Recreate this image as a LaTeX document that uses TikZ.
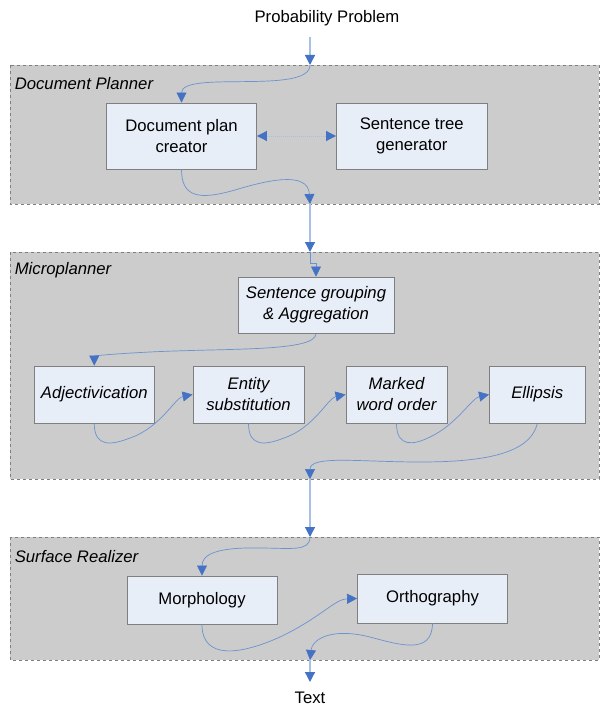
\documentclass[tikz,border=0pt]{standalone}
\usepackage{fontspec}
\setmainfont{Liberation Sans}
\usetikzlibrary{arrows.meta}
\definecolor{panelfill}{HTML}{CCCCCC}
\definecolor{panelline}{HTML}{7F7F7F}
\definecolor{boxfill}{HTML}{E8EEF8}
\definecolor{boxline}{HTML}{7F7F7F}
\definecolor{conn}{HTML}{6A93D0}
\definecolor{tipcol}{HTML}{4472C4}
\definecolor{lightconn}{HTML}{A9C0E6}
\tikzset{
  panel/.style={draw=panelline, fill=panelfill, dashed, line width=0.8pt},
  panellabel/.style={anchor=west, inner sep=0pt, font=\fontsize{16.7}{20}\selectfont\itshape},
  procbox/.style={draw=boxline, fill=boxfill, line width=0.9pt, inner sep=0pt, align=center,
    font=\fontsize{16.7}{21}\selectfont},
  itbox/.style={procbox, font=\fontsize{16.7}{21}\selectfont\itshape},
  flow/.style={draw=conn, line width=0.7pt, -{Triangle[length=10pt,width=10pt,color=tipcol]}},
  trunk/.style={draw=lightconn, line width=1.3pt, -{Triangle[length=10pt,width=10pt,color=tipcol]}},
  plain/.style={inner sep=0pt, font=\fontsize{16.7}{20}\selectfont}
}
\begin{document}
\begin{tikzpicture}[x=1pt,y=-1pt]
\useasboundingbox (0,0) rectangle (601,706);
% panels
\draw[panel] (10,65) rectangle (599,204);
\draw[panel] (10,252) rectangle (599,479);
\draw[panel] (10,537) rectangle (599,660);
\node[panellabel] (lab1) at (14.6,84) {Document Planner};
\node[panellabel] (lab2) at (14.6,270) {Microplanner};
\node[panellabel] (lab3) at (14.6,557) {Surface Realizer};
% texts
\node[plain] (prob) at (327,18) {Probability Problem};
\node[plain, anchor=base] (txt) at (310,703) {Text};
% coordinates
\coordinate (in1) at (310,37);
\coordinate (p1top) at (310,65);
\coordinate (p1bot) at (310,204);
\coordinate (p2top) at (310,252);
\coordinate (p2bot) at (310,479);
\coordinate (p3top) at (310,537);
\coordinate (p3bot) at (310,660);
\coordinate (out) at (310,682);
% boxes
\node[procbox, minimum width=150pt, minimum height=66pt] (dpc) at (181.5,136) {Document plan\\creator};
\node[procbox, minimum width=150.5pt, minimum height=66pt] (stg) at (411.75,136) {Sentence tree\\generator};
\node[itbox, minimum width=156pt, minimum height=56pt] (sg) at (316,305) {Sentence grouping\\\& Aggregation};
\node[itbox, minimum width=119.5pt, minimum height=57pt] (adj) at (94.25,394.5) {Adjectivication};
\node[itbox, minimum width=111pt, minimum height=57pt] (ent) at (248.5,394.5) {Entity\\substitution};
\node[itbox, minimum width=101pt, minimum height=57pt] (mar) at (396.5,394.5) {Marked\\word order};
\node[itbox, minimum width=95.5pt, minimum height=57pt] (ell) at (537.25,394.5) {Ellipsis};
\node[procbox, minimum width=150pt, minimum height=48pt] (mor) at (202,600) {Morphology};
\node[procbox, minimum width=150pt, minimum height=49pt] (ort) at (432.5,598.5) {Orthography};
% trunk lines
\draw[trunk] (in1) -- (p1top);
\draw[trunk] (p1bot) -- (p2top);
\draw[trunk] (p2bot) -- (p3top);
\draw[trunk] (p3bot) -- (out);
% document planner
\draw[flow] (p1top) .. controls (310,95) and (181.5,70) .. (dpc.north);
\draw[draw=lightconn, line width=1pt, densely dotted,
  {Triangle[length=10pt,width=10pt,color=tipcol]}-{Triangle[length=10pt,width=10pt,color=tipcol]}]
  (dpc.east) -- (stg.west);
\draw[flow] (dpc.south) .. controls (181.5,198) and (200,200) .. (235,190)
  .. controls (265,181) and (308,170) .. (p1bot);
% microplanner
\draw[flow] (p2top) -- ++(0,11) -| (sg.north);
\draw[flow] (sg.south) .. controls (316,352) and (230,348) .. (150,352)
  .. controls (110,354) and (94.25,356) .. (adj.north);
\draw[flow] (adj.south) .. controls (94.25,448) and (112,445) .. (130,438)
  .. controls (160,428) and (175,398) .. (ent.west);
\draw[flow] (ent.south) .. controls (248.5,448) and (266,445) .. (284,438)
  .. controls (314,428) and (328,398) .. (mar.west);
\draw[flow] (mar.south) .. controls (396.5,448) and (414,445) .. (430,437)
  .. controls (456,425) and (472,398) .. (ell.west);
\draw[flow] (ell.south) .. controls (530,455) and (480,462) .. (420,462)
  .. controls (360,462) and (310,455) .. (p2bot);
% surface realizer
\draw[flow] (p3top) .. controls (310,552) and (290,548) .. (260,548)
  .. controls (215,547) and (202,555) .. (mor.north);
\draw[flow] (mor.south) .. controls (202,660) and (240,655) .. (280,637)
  .. controls (320,618) and (335,599) .. (ort.west);
\draw[flow] (ort.south) .. controls (432,655) and (400,645) .. (370,637)
  .. controls (330,627) and (312,640) .. (p3bot);
\end{tikzpicture}
\end{document}
